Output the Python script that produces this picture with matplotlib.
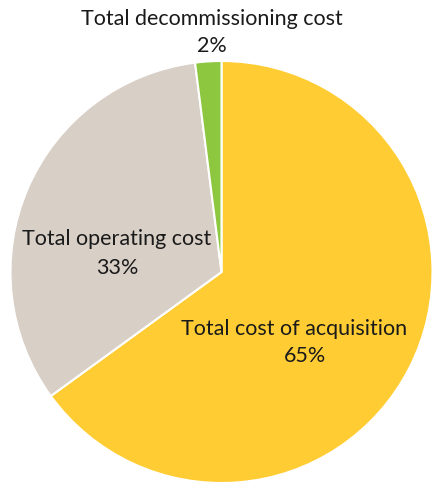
import matplotlib.pyplot as plt

labels = ['Total cost of acquisition', 'Total operating cost', 'Total decommissioning cost']
shares = [65, 33, 2]
colors = ['#FFCD33', '#D8CFC6', '#8DC63F']

W, H = 433, 483
fig = plt.figure(figsize=(W / 100, H / 100), dpi=100)

# pie centred at (221, 272) px, radius 211 px
cx, cy, r = 221.5, 272, 211
ax = fig.add_axes([(cx - r) / W, (H - cy - r) / H, 2 * r / W, 2 * r / H])
ax.pie(shares, colors=colors, startangle=90, counterclock=False,
       radius=1, wedgeprops=dict(edgecolor='white', linewidth=1.5))
ax.set_xlim(-1, 1)
ax.set_ylim(-1, 1)
ax.set_aspect('equal')
ax.axis('off')

font = dict(family='Lato', fontsize=15.5, color='#1a1a1a', ha='center', va='center')


def put(x, y, s):
    fig.text(x / W, 1 - y / H, s, **font)


put(212, 19, labels[2])
put(212, 46, f'{shares[2]}%')
put(117, 239, labels[1])
put(117, 268, f'{shares[1]}%')
put(294, 329, labels[0])
put(305, 356, f'{shares[0]}%')

fig.savefig('out.png', dpi=100)
